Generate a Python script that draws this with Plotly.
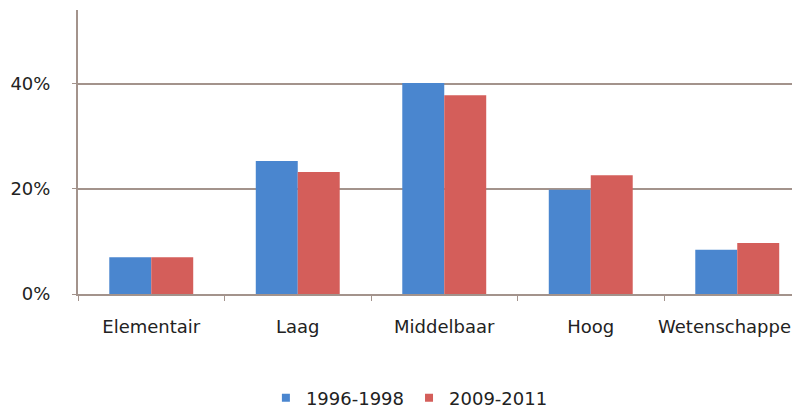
import plotly.graph_objects as go

categories = ["Elementair", "Laag", "Middelbaar", "Hoog", "Wetenschappelijk"]
series_1996 = [0.070, 0.253, 0.401, 0.198, 0.084]
series_2009 = [0.070, 0.232, 0.378, 0.226, 0.097]
series_names = ["1996-1998", "2009-2011"]
y_ticks = [0, 0.2, 0.4]
y_tick_labels = ["0%", "20%", "40%"]

blue = "#4a86cf"
red = "#d45e5a"
axis_col = "#a3938c"

fig = go.Figure()
fig.add_bar(x=categories, y=series_1996, name=series_names[0], marker_color=blue,
            marker_line_width=0, showlegend=False)
fig.add_bar(x=categories, y=series_2009, name=series_names[1], marker_color=red,
            marker_line_width=0, showlegend=False)
# legend entries with small square swatches
for nm, col in zip(series_names, [blue, red]):
    fig.add_scatter(x=[None], y=[None], mode="markers", name=nm,
                    marker=dict(symbol="square", size=8, color=col))

# page body has an 8px margin, so the figure is offset by 8px
fig.update_layout(
    width=800, height=409,
    margin=dict(l=70, r=8, t=2, b=123, autoexpand=False),
    paper_bgcolor="white", plot_bgcolor="white",
    barmode="group", bargap=0.427, bargroupgap=0,
    font=dict(family="DejaVu Sans", size=18, color="#222"),
    legend=dict(orientation="h", x=0.459, xanchor="center", y=-0.366, yanchor="middle",
                font=dict(size=18), itemwidth=30, traceorder="normal"),
    showlegend=True,
)
fig.update_xaxes(
    range=[-0.5, -0.5 + 722 / 146.5],
    showline=True, linecolor=axis_col, linewidth=2,
    ticks="outside", tickson="boundaries", ticklen=5, tickcolor=axis_col,
    showgrid=False, automargin=False, ticklabelstandoff=15, tickangle=0,
    tickfont=dict(size=18, color="#222"),
)
fig.update_yaxes(
    range=[0, 0.54], tickvals=y_ticks, ticktext=y_tick_labels,
    showline=True, linecolor=axis_col, linewidth=2,
    ticks="outside", ticklen=4, tickcolor=axis_col,
    showgrid=True, gridcolor=axis_col, gridwidth=2,
    zeroline=False, automargin=False, ticklabelstandoff=18,
    tickfont=dict(size=18, color="#222"),
)

fig.write_html("out.html")
